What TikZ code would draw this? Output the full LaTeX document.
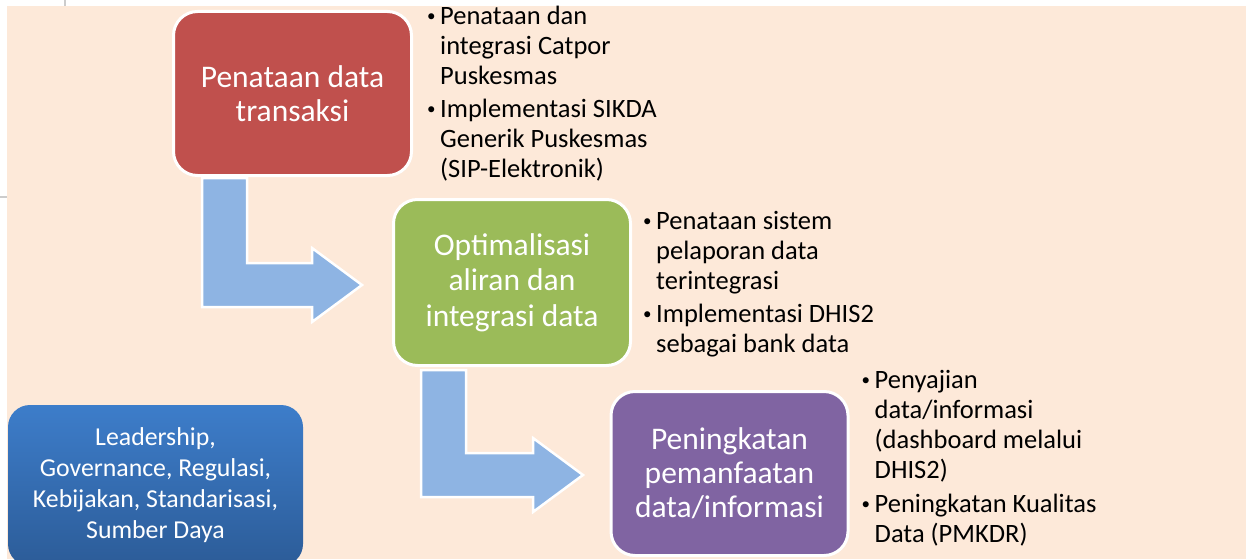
\documentclass[tikz,border=0pt]{standalone}
\usepackage{fontspec}
\setmainfont{Carlito}
\usepackage{tikz}
\definecolor{latar}{HTML}{FDE9D9}
\definecolor{merahc}{HTML}{C0504D}
\definecolor{hijauc}{HTML}{9BBB59}
\definecolor{unguc}{HTML}{8064A2}
\definecolor{panahc}{HTML}{8EB4E3}
\definecolor{birua}{HTML}{3D7DCA}
\definecolor{birub}{HTML}{2C5C98}
\tikzset{kotak/.style={rounded corners=24pt, draw=white, line width=3pt, text=white, align=center, inner sep=0pt, font=\fontsize{31.5}{34}\selectfont}}
\tikzset{ket/.style={anchor=north west, inner sep=0pt, font=\fontsize{26.5}{30}\selectfont}}
\newcommand{\butir}{\makebox[13pt][l]{\raisebox{2.5pt}{\fontsize{17}{17}\selectfont\textbullet}}}

\begin{document}
\begin{tikzpicture}[x=1pt,y=-1pt]
\useasboundingbox (0,0) rectangle (1246,559);
\clip (0,0) rectangle (1246,559);
\fill[white] (0,0) rectangle (1246,559);
\fill[latar] (7,6) rectangle (1246,559);
\draw[gray!40, line width=1.5pt] (65,0) -- (65,6);
\draw[gray!40, line width=1.5pt] (0,197) -- (7,197);
% panah
\foreach \sx/\sy/\ty/\tx in {202/178/285/362, 421/370/475/583} {
\filldraw[fill=panahc, draw=white, line width=2.5pt] (\sx,\sy) -- ({\sx+45},\sy) -- ({\sx+45},{\ty-22}) -- ({\tx-50},{\ty-22}) -- ({\tx-50},{\ty-37}) -- (\tx,\ty) -- ({\tx-50},{\ty+37}) -- ({\tx-50},{\ty+22}) -- (\sx,{\ty+22}) -- cycle;
}
\node[kotak, fill=merahc, minimum width=238pt, minimum height=164pt] (merah) at (292.5,93.5) {Penataan data\\transaksi};
\node[kotak, fill=hijauc, minimum width=237pt, minimum height=166pt, font=\fontsize{31.5}{35.5}\selectfont] (hijau) at (512,282.5) {Optimalisasi\\aliran dan\\integrasi data};
\node[kotak, fill=unguc, minimum width=237pt, minimum height=164pt] (ungu) at (729.5,473.5) {Peningkatan\\pemanfaatan\\data/informasi};
\node[kotak, draw=none, rounded corners=22pt, top color=birua, bottom color=birub, minimum width=295pt, minimum height=161pt, font=\fontsize{25.8}{31}\selectfont] (biru) at (155.5,485.5) {Leadership,\\Governance, Regulasi,\\Kebijakan, Standarisasi,\\Sumber Daya};
% keterangan
\node[ket] (ket1) at ([shift={(14,-7)}]merah.north east) {\begin{tabular}{@{}l@{}l@{}}
\butir & Penataan dan\\
 & integrasi Catpor\\
 & Puskesmas\\[3pt]
\butir & Implementasi SIKDA\\
 & Generik Puskesmas\\
 & (SIP-Elektronik)
\end{tabular}};
\node[ket] (ket2) at ([shift={(11,10)}]hijau.north east) {\begin{tabular}{@{}l@{}l@{}}
\butir & Penataan sistem\\
 & pelaporan data\\
 & terintegrasi\\[3pt]
\butir & Implementasi DHIS2\\
 & sebagai bank data
\end{tabular}};
\node[ket] (ket3) at ([shift={(12,-23)}]ungu.north east) {\begin{tabular}{@{}l@{}l@{}}
\butir & Penyajian\\
 & data/informasi\\
 & (dashboard melalui\\
 & DHIS2)\\[4pt]
\butir & Peningkatan Kualitas\\
 & Data (PMKDR)
\end{tabular}};
\end{tikzpicture}
\end{document}
